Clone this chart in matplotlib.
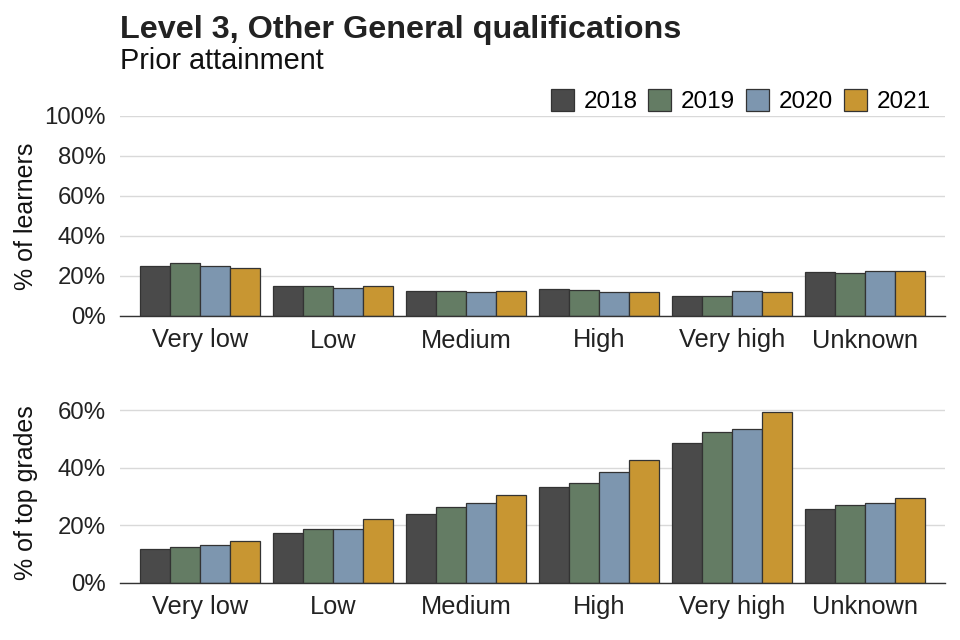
import matplotlib
matplotlib.use("Agg")
import matplotlib.pyplot as plt
import numpy as np
from matplotlib.patches import Patch
from matplotlib.ticker import FuncFormatter

plt.rcParams['font.family'] = ['Liberation Sans', 'DejaVu Sans']

categories = ["Very low", "Low", "Medium", "High", "Very high", "Unknown"]
years = ["2018", "2019", "2020", "2021"]
colors = ["#4a4a4a", "#647c64", "#7d96af", "#c89632"]

learners = {
    "2018": [24.8, 15.2, 12.5, 13.5, 10.2, 21.8],
    "2019": [26.3, 14.8, 12.3, 12.8, 10.2, 21.3],
    "2020": [24.8, 14.0, 12.0, 11.8, 12.7, 22.3],
    "2021": [23.8, 14.8, 12.5, 11.8, 11.8, 22.7],
}
top_grades = {
    "2018": [11.7, 17.3, 23.9, 33.2, 48.6, 25.6],
    "2019": [12.5, 18.8, 26.2, 34.6, 52.3, 26.9],
    "2020": [13.1, 18.8, 27.9, 38.5, 53.4, 27.6],
    "2021": [14.6, 22.0, 30.4, 42.7, 59.3, 29.4],
}

fig = plt.figure(figsize=(9.6, 6.4), dpi=100)
ax1 = fig.add_axes([0.125, 0.50625, 0.859, 0.3125])
ax2 = fig.add_axes([0.125, 0.0895, 0.859, 0.283])

x = np.arange(len(categories))
bw = 0.225

def draw(ax, data, ylim, ticks, ylabel):
    for i, y in enumerate(years):
        ax.bar(x + (i - 1.5) * bw, data[y], width=bw, color=colors[i],
               edgecolor="#333333", linewidth=0.9, zorder=3)
    ax.set_xlim(-0.6, 5.6)
    ax.set_ylim(*ylim)
    ax.set_yticks(ticks)
    ax.yaxis.set_major_formatter(FuncFormatter(lambda v, p: f"{v:.0f}%"))
    ax.set_xticks(x)
    ax.set_xticklabels(categories)
    ax.grid(axis='y', color="#d9d9d9", linewidth=1, zorder=0)
    for s in ["top", "right", "left"]:
        ax.spines[s].set_visible(False)
    ax.spines["bottom"].set_color("#333333")
    ax.spines["bottom"].set_linewidth(1)
    ax.spines["bottom"].set_zorder(4)
    ax.tick_params(axis='both', length=0, colors="#222222")
    ax.tick_params(axis='x', pad=9, labelsize=18.3)
    ax.tick_params(axis='y', pad=10, labelsize=17.3)
    ax.set_ylabel(ylabel, fontsize=18, color="#111111")

draw(ax1, learners, (0, 100), [0, 20, 40, 60, 80, 100], "% of learners")
draw(ax2, top_grades, (0, 63), [0, 20, 40, 60], "% of top grades")
ax1.yaxis.set_label_coords(-0.099, 0.5)
ax2.yaxis.set_label_coords(-0.099, 0.5)

fig.text(0.125, 0.953, "Level 3, Other General qualifications", fontsize=23.3,
         fontweight="bold", color="#222222", va="center")
fig.text(0.125, 0.904, "Prior attainment", fontsize=20.8, color="#111111", va="center")

handles = [Patch(facecolor=c, edgecolor="#333333", linewidth=0.9) for c in colors]
fig.legend(handles, years, loc="center right", bbox_to_anchor=(0.970, 0.842),
           ncol=4, frameon=False, fontsize=17.5, handlelength=0.95, handleheight=1.0,
           handletextpad=0.4, columnspacing=0.45, borderaxespad=0, borderpad=0)

fig.savefig("out.png", dpi=100)
